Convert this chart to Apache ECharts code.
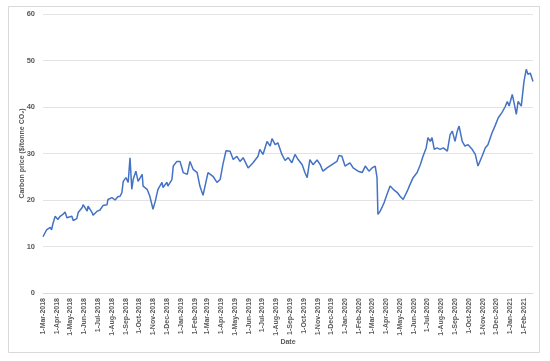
<!DOCTYPE html>
<html><head><meta charset="utf-8">
<script src="https://cdn.jsdelivr.net/npm/echarts@6/dist/echarts.min.js"></script>
<style>html,body{margin:0;padding:0;background:#fff}#c{width:550px;height:361px}</style>
</head><body><div id="c"></div>
<script>
var startDate = '2018-03-01';
var endDate = '2021-02-20';
var dates = ['2018-03-01','2018-03-09','2018-03-17','2018-03-20','2018-03-23','2018-03-28','2018-03-31','2018-04-03','2018-04-08','2018-04-14','2018-04-19','2018-04-23','2018-04-25','2018-05-04','2018-05-07','2018-05-15','2018-05-18','2018-05-27','2018-05-29','2018-06-02','2018-06-07','2018-06-09','2018-06-18','2018-06-20','2018-06-29','2018-07-05','2018-07-12','2018-07-21','2018-07-23','2018-08-01','2018-08-08','2018-08-14','2018-08-19','2018-08-23','2018-08-26','2018-09-01','2018-09-06','2018-09-10','2018-09-14','2018-09-17','2018-09-23','2018-09-28','2018-10-07','2018-10-09','2018-10-18','2018-10-24','2018-10-31','2018-11-05','2018-11-11','2018-11-20','2018-11-22','2018-12-01','2018-12-03','2018-12-12','2018-12-15','2018-12-23','2018-12-30','2019-01-06','2019-01-15','2019-01-21','2019-01-28','2019-02-06','2019-02-12','2019-02-19','2019-03-02','2019-03-13','2019-03-22','2019-03-29','2019-04-04','2019-04-11','2019-04-20','2019-04-27','2019-05-05','2019-05-12','2019-05-19','2019-05-30','2019-06-10','2019-06-21','2019-06-25','2019-07-02','2019-07-11','2019-07-18','2019-07-22','2019-07-29','2019-08-04','2019-08-13','2019-08-20','2019-08-27','2019-09-04','2019-09-11','2019-09-18','2019-09-27','2019-10-03','2019-10-08','2019-10-14','2019-10-21','2019-10-30','2019-11-06','2019-11-12','2019-11-21','2019-12-02','2019-12-13','2019-12-18','2019-12-24','2019-12-31','2020-01-11','2020-01-18','2020-01-29','2020-02-07','2020-02-14','2020-02-18','2020-02-22','2020-02-29','2020-03-07','2020-03-11','2020-03-13','2020-03-18','2020-03-22','2020-03-27','2020-04-02','2020-04-09','2020-04-13','2020-04-16','2020-04-25','2020-05-01','2020-05-08','2020-05-17','2020-05-23','2020-05-30','2020-06-08','2020-06-15','2020-06-21','2020-06-28','2020-07-02','2020-07-07','2020-07-11','2020-07-16','2020-07-22','2020-07-29','2020-08-05','2020-08-14','2020-08-20','2020-08-25','2020-08-31','2020-09-05','2020-09-09','2020-09-16','2020-09-22','2020-09-29','2020-10-08','2020-10-15','2020-10-21','2020-10-30','2020-11-06','2020-11-12','2020-11-21','2020-11-28','2020-12-05','2020-12-13','2020-12-20','2020-12-25','2020-12-29','2021-01-05','2021-01-09','2021-01-14','2021-01-18','2021-01-25','2021-01-29','2021-01-31','2021-02-05','2021-02-09','2021-02-14','2021-02-20'];
var prices = [12.1,13.6,14.1,13.6,14.9,16.5,16.2,15.8,16.5,16.9,17.4,16.2,15.8,16.5,15.6,16.0,17.3,18.4,19.0,18.7,17.6,18.7,17.3,16.7,17.6,17.8,18.8,19.0,20.1,20.5,20.0,20.7,20.8,21.6,24.0,24.8,23.8,29.1,22.3,24.4,26.2,24.0,25.5,23.0,22.3,20.8,18.0,19.7,22.3,23.8,22.7,23.8,23.0,24.4,27.3,28.3,28.3,25.9,25.5,28.3,26.6,25.9,23.0,21.0,25.9,25.1,23.8,24.4,27.6,30.6,30.5,28.7,29.4,28.3,29.1,26.9,28.0,29.4,30.9,29.8,32.6,31.6,33.2,31.9,32.3,29.8,28.5,29.1,28.0,29.8,28.7,27.6,25.9,24.8,28.7,27.6,28.6,27.6,26.2,26.9,27.6,28.3,29.6,29.4,27.3,28.0,26.9,26.2,25.9,27.3,27.6,26.2,26.9,27.3,24.8,16.9,17.6,18.4,19.5,21.2,23.0,23.3,22.3,21.6,20.8,20.1,21.9,23.3,24.8,25.9,27.6,29.4,31.2,33.4,32.6,33.4,30.9,31.2,30.9,31.2,30.5,34.0,34.8,32.6,34.8,35.9,32.6,31.6,31.9,30.9,29.8,27.3,29.4,31.2,31.9,34.4,36.0,37.7,38.8,40.0,41.2,40.2,42.7,40.9,38.4,41.2,40.2,39.8,45.5,48.1,47.0,47.3,45.5];
var yTicks = [0,10,20,30,40,50,60];
var months = ['Jan','Feb','Mar','Apr','May','Jun','Jul','Aug','Sep','Oct','Nov','Dec'];

function iso(d){var m=d.getUTCMonth()+1,dd=d.getUTCDate();return d.getUTCFullYear()+'-'+(m<10?'0':'')+m+'-'+(dd<10?'0':'')+dd;}
var cats=[];
for(var t=Date.parse(startDate+'T00:00:00Z'); t<=Date.parse(endDate+'T00:00:00Z'); t+=86400000){cats.push(iso(new Date(t)));}
var idx={}; cats.forEach(function(c,i){idx[c]=i;});
var seriesData = cats.map(function(){return null;});
dates.forEach(function(d,i){seriesData[idx[d]]=prices[i];});

var chart = echarts.init(document.getElementById('c'), null, {renderer:'canvas'});
var fnt = '"Liberation Sans", Arial, sans-serif';
chart.setOption({
  animation:false,
  backgroundColor:'#fff',
  graphic:[{type:'rect',shape:{x:8.5,y:6.5,width:531,height:346},style:{fill:'none',stroke:'#d9d9d9',lineWidth:1},silent:true,z:-1}],
  grid:{left:43,right:17,top:14,bottom:68},
  xAxis:{
    type:'category', data:cats, boundaryGap:false,
    name:'Date', nameLocation:'middle', nameGap:46, nameMoveOverlap:false,
    nameTextStyle:{fontFamily:fnt,fontSize:7,fontWeight:'bold',color:'#595959'},
    axisLine:{show:true,lineStyle:{color:'#d9d9d9',width:1}},
    axisTick:{show:false},
    splitLine:{show:false},
    axisLabel:{
      rotate:90, margin:5, fontFamily:fnt, fontSize:7, fontWeight:'bold', color:'#595959',
      interval:function(i,v){return v.slice(8)==='01';},
      formatter:function(v){var p=v.split('-');return parseInt(p[2],10)+'-'+months[parseInt(p[1],10)-1]+'-'+p[0];}
    }
  },
  yAxis:{
    type:'value', min:0, max:60, interval:10,
    name:'Carbon price ($/tonne CO\u2082)', nameLocation:'middle', nameGap:17, nameMoveOverlap:false,
    nameTextStyle:{fontFamily:fnt,fontSize:7,fontWeight:'bold',color:'#595959'},
    axisLine:{show:false}, axisTick:{show:false},
    splitLine:{lineStyle:{color:'#e3e3e3',width:1}},
    axisLabel:{margin:8,fontFamily:fnt,fontSize:7.5,fontWeight:'bold',color:'#595959',
      formatter:function(v){return yTicks.indexOf(v)>=0?String(v):'';}}
  },
  series:[{type:'line',data:seriesData,connectNulls:true,showSymbol:false,symbol:'none',
    lineStyle:{color:'#4472C4',width:1.5},itemStyle:{color:'#4472C4'}}]
});
</script></body></html>
